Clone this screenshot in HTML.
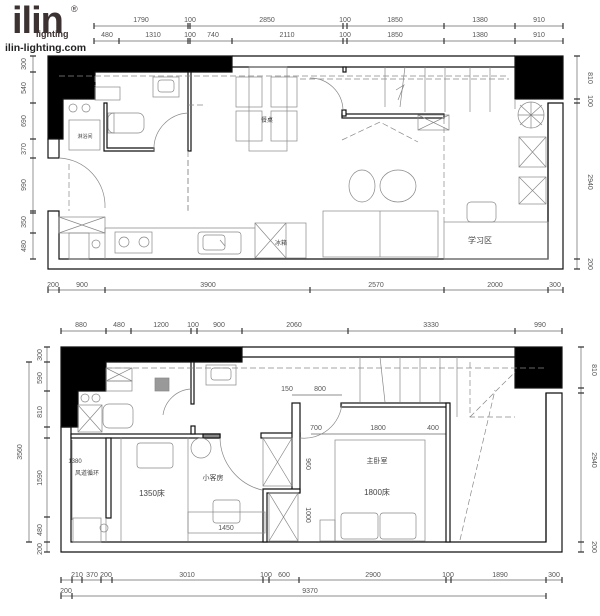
<!DOCTYPE html>
<html><head><meta charset="utf-8"><style>
html,body{margin:0;padding:0;background:#fff;width:600px;height:616px;overflow:hidden}
svg{display:block}
.d{font:7px "Liberation Sans","Noto Sans CJK SC",sans-serif;fill:#555}
.t{font:8px "Liberation Sans","Noto Sans CJK SC",sans-serif;fill:#444}
</style></head><body>
<svg width="600" height="616" viewBox="0 0 600 616" xmlns="http://www.w3.org/2000/svg">
<g stroke="#666" stroke-width="0.7" fill="none">
<!-- ===== TOP PLAN dims ===== -->
<line x1="94" y1="26" x2="563" y2="26"/><line x1="94" y1="41" x2="563" y2="41"/>
<line x1="48" y1="290" x2="563" y2="290"/>
<line x1="33" y1="56" x2="33" y2="259"/><line x1="577" y1="56" x2="577" y2="269"/>
</g>
<g stroke="#333" stroke-width="1.2">
<path d="M94 23v6M188 23v6M190 23v6M343 23v6M347 23v6M444 23v6M515 23v6M563 23v6"/>
<path d="M94 38v6M119 38v6M188 38v6M190 38v6M232 38v6M343 38v6M347 38v6M444 38v6M515 38v6M563 38v6"/>
<path d="M48 287v6M59 287v6M105 287v6M310 287v6M444 287v6M548 287v6M563 287v6"/>
<path d="M30 56h6M30 72h6M30 103h6M30 139h6M30 158h6M30 211h6M30 213h6M30 233h6M30 259h6"/>
<path d="M574 56h6M574 99h6M574 103h6M574 259h6M574 269h6"/>
</g>
<g class="d" text-anchor="middle">
<text x="141" y="22">1790</text><text x="190" y="22">100</text><text x="267" y="22">2850</text><text x="345" y="22">100</text><text x="395" y="22">1850</text><text x="480" y="22">1380</text><text x="539" y="22">910</text>
<text x="107" y="37">480</text><text x="153" y="37">1310</text><text x="190" y="37">100</text><text x="213" y="37">740</text><text x="287" y="37">2110</text><text x="345" y="37">100</text><text x="395" y="37">1850</text><text x="480" y="37">1380</text><text x="539" y="37">910</text>
<text x="53" y="287">200</text><text x="82" y="287">900</text><text x="208" y="287">3900</text><text x="376" y="287">2570</text><text x="495" y="287">2000</text><text x="555" y="287">300</text>
<text transform="translate(26,64) rotate(-90)">300</text><text transform="translate(26,88) rotate(-90)">540</text><text transform="translate(26,121) rotate(-90)">690</text><text transform="translate(26,149) rotate(-90)">370</text><text transform="translate(26,185) rotate(-90)">990</text><text transform="translate(26,222) rotate(-90)">350</text><text transform="translate(26,246) rotate(-90)">480</text>
<text transform="translate(588,78) rotate(90)">810</text><text transform="translate(588,101) rotate(90)">100</text><text transform="translate(588,182) rotate(90)">2940</text><text transform="translate(588,264) rotate(90)">200</text>
</g>
<!-- top plan walls -->
<g stroke="#111" stroke-width="1.2">
<path d="M48 56H232V72H95V99H63V139H48Z" fill="#000"/>
<rect x="515" y="56" width="48" height="43" fill="#000"/>
<path d="M232 56H515M232 67H515" fill="none"/>
<rect x="48" y="139" width="11" height="19" fill="#fff"/>
<path d="M48 211h11v48h489V103h15v166H48Z" fill="none"/>
<path d="M548 103v156" fill="none"/>
<rect x="188" y="72" width="3" height="79" fill="#fff"/>
<path d="M104 103h3v45h47v3h-50Z" fill="#fff"/>
<rect x="342" y="114" width="102" height="4" fill="#fff"/>
<rect x="342" y="110" width="4" height="6" fill="#fff"/>
<rect x="343" y="67" width="3" height="5" fill="#fff"/>
</g>
<g stroke="#888" stroke-width="0.7" fill="none">
<path d="M59 76h450M95 76v10M188 105h15M300 79h209" stroke-dasharray="6 3"/>
<path d="M444 118v104M188 151v60" stroke-dasharray="6 3"/>
<path d="M342 140l38-18l38 20M69 164v47M188 160v50" stroke-dasharray="6 3"/>
<path d="M385 67v40M405 67l-5 40M425 67v45M445 67v45M470 67v45M490 67v45M515 99v10"/>
<path d="M396 90l8-5l-6 15"/>
<rect x="236" y="77" width="26" height="30"/><rect x="271" y="77" width="26" height="30"/>
<rect x="236" y="111" width="26" height="30"/><rect x="271" y="111" width="26" height="30"/>
<rect x="249" y="67" width="38" height="84"/>
<path d="M310 78a33 33 0 0 1 33 32"/>
<rect x="418" y="115" width="31" height="15"/><path d="M418 115l31 15M449 115l-31 15"/>
<ellipse cx="362" cy="186" rx="13" ry="16"/><ellipse cx="398" cy="186" rx="18" ry="16"/>
<rect x="323" y="211" width="115" height="46"/><path d="M380 211v46"/>
<rect x="444" y="222" width="104" height="37"/>
<rect x="467" y="202" width="29" height="20" rx="4"/>
<rect x="519" y="137" width="27" height="30"/><rect x="519" y="177" width="27" height="27"/>
<path d="M519 137l27 30M546 137l-27 30M519 177l27 27M546 177l-27 27"/>
<circle cx="531" cy="115" r="13"/><path d="M520 105l22 20M542 105l-22 20M531 102v26M518 115h26"/>
<path d="M105 228h150M105 228v31"/>
<rect x="115" y="232" width="37" height="21"/><circle cx="124" cy="242" r="5"/><circle cx="144" cy="242" r="5"/>
<rect x="198" y="232" width="43" height="22" rx="3"/><rect x="203" y="235" width="22" height="15" rx="3"/><path d="M220 240l5 6"/>
<rect x="255" y="223" width="51" height="35"/><path d="M286 223v35M255 223l31 35M286 223l-31 35"/>
<rect x="59" y="217" width="46" height="16"/><path d="M59 217l46 16M105 217l-46 16"/>
<rect x="69" y="233" width="20" height="26"/><circle cx="96" cy="244" r="4"/>
<path d="M59 158a48 48 0 0 1 46 50"/>
<rect x="153" y="77" width="26" height="20"/><rect x="158" y="80" width="16" height="12" rx="3"/>
<rect x="108" y="113" width="36" height="20" rx="6"/><rect x="108" y="113" width="6" height="20"/>
<path d="M154 151a36 36 0 0 1 34 -38"/>
<rect x="69" y="120" width="31" height="30"/>
<circle cx="73" cy="108" r="4"/><circle cx="86" cy="108" r="4"/>
<rect x="95" y="87" width="25" height="13"/>
</g>
<g class="t" text-anchor="middle" font-size="6">
<text x="85" y="138" style="font-size:5px">淋浴间</text>
<text x="480" y="243">学习区</text><text x="281" y="245" style="font-size:6px">冰箱</text>
<text x="267" y="122" style="font-size:6px">餐桌</text>
</g>

<!-- ===== BOTTOM PLAN ===== -->
<g stroke="#666" stroke-width="0.7" fill="none">
<line x1="61" y1="331" x2="562" y2="331"/><line x1="61" y1="580" x2="562" y2="580"/><line x1="61" y1="596" x2="546" y2="596"/>
<line x1="29" y1="362" x2="29" y2="542"/><line x1="47" y1="347" x2="47" y2="552"/><line x1="581" y1="347" x2="581" y2="552"/>
<line x1="72" y1="440" x2="72" y2="520"/><line x1="292" y1="395" x2="342" y2="395"/><line x1="311" y1="434" x2="449" y2="434"/>
</g>
<g stroke="#333" stroke-width="1.2">
<path d="M61 328v6M106 328v6M131 328v6M191 328v6M197 328v6M242 328v6M348 328v6M515 328v6M562 328v6"/>
<path d="M61 577v6M72 577v6M82 577v6M101 577v6M112 577v6M263 577v6M269 577v6M299 577v6M446 577v6M451 577v6M546 577v6M562 577v6"/>
<path d="M61 593v6M72 593v6M546 593v6"/>
<path d="M44 347h6M44 362h6M44 391h6M44 427h6M44 438h6M44 517h6M44 542h6M44 552h6M26 362h6M26 542h6"/>
<path d="M578 347h6M578 388h6M578 393h6M578 542h6M578 552h6"/>
</g>
<g class="d" text-anchor="middle">
<text x="81" y="327">880</text><text x="119" y="327">480</text><text x="161" y="327">1200</text><text x="193" y="327">100</text><text x="219" y="327">900</text><text x="294" y="327">2060</text><text x="431" y="327">3330</text><text x="540" y="327">990</text>
<text x="77" y="577">210</text><text x="92" y="577">370</text><text x="106" y="577">200</text><text x="187" y="577">3010</text><text x="266" y="577">100</text><text x="284" y="577">600</text><text x="373" y="577">2900</text><text x="448" y="577">100</text><text x="500" y="577">1890</text><text x="554" y="577">300</text>
<text x="66" y="593">200</text><text x="310" y="593">9370</text>
<text x="287" y="391">150</text><text x="320" y="391">800</text><text x="316" y="430">700</text><text x="378" y="430">1800</text><text x="433" y="430">400</text><text x="226" y="530">1450</text>
<text transform="translate(22,452) rotate(-90)">3560</text>
<text transform="translate(42,355) rotate(-90)">300</text><text transform="translate(42,378) rotate(-90)">590</text><text transform="translate(42,412) rotate(-90)">810</text><text transform="translate(42,478) rotate(-90)">1590</text><text transform="translate(42,530) rotate(-90)">480</text><text transform="translate(42,549) rotate(-90)">200</text>
<text transform="translate(592,370) rotate(90)">810</text><text transform="translate(592,460) rotate(90)">2940</text><text transform="translate(592,547) rotate(90)">200</text>
<text transform="translate(306,464) rotate(90)">960</text><text transform="translate(306,515) rotate(90)">1000</text>
</g>
<g stroke="#111" stroke-width="1.2">
<path d="M61 347H242V362H106V391H78V427H61Z" fill="#000"/>
<rect x="515" y="347" width="47" height="41" fill="#000"/>
<path d="M242 347H515M242 357H515" fill="none"/>
<path d="M61 427h10v115h475V393h16v159H61Z" fill="none"/>
<path d="M546 393v149" fill="none"/>
<rect x="71" y="434" width="149" height="4" fill="#fff"/>
<rect x="203" y="434" width="17" height="4" fill="#888"/>
<rect x="261" y="433" width="39" height="5" fill="#fff"/>
<rect x="292" y="403" width="8" height="89" fill="#fff"/>
<path d="M263 489h37v4h-33v49h-4Z" fill="#fff"/>
<rect x="341" y="403" width="108" height="4" fill="#fff"/>
<rect x="446" y="403" width="4" height="139" fill="#fff"/>
<rect x="106" y="438" width="5" height="80" fill="#fff"/>
<rect x="191" y="362" width="3" height="42" fill="#fff"/>
<rect x="191" y="426" width="4" height="8" fill="#fff"/>
</g>
<g stroke="#888" stroke-width="0.7" fill="none">
<path d="M106 368h440M470 362v55h45M470 417l45-45M460 540l35-150" stroke-dasharray="6 3"/>
<path d="M360 357v45M380 357l5 45M400 357v45M420 357v45M440 357v45M457 357v60"/>
<rect x="263" y="438" width="29" height="48"/><path d="M263 438l29 48M292 438l-29 48"/>
<rect x="269" y="493" width="29" height="48"/><path d="M269 493l29 48M298 493l-29 48"/>
<rect x="335" y="440" width="90" height="101"/>
<rect x="341" y="513" width="37" height="26" rx="3"/><rect x="380" y="513" width="36" height="26" rx="3"/>
<rect x="320" y="520" width="15" height="21"/>
<rect x="137" y="443" width="36" height="25" rx="3"/>
<path d="M121 437v104M188 437v104"/>
<rect x="188" y="512" width="77" height="21"/>
<rect x="213" y="500" width="27" height="23" rx="3"/>
<circle cx="201" cy="448" r="10"/>
<path d="M220 438a55 55 0 0 0 42 52M300 438a38 38 0 0 0 42 -35M163 415a30 30 0 0 1 28 -26"/>
<rect x="73" y="518" width="28" height="24"/><circle cx="104" cy="528" r="4"/>
<rect x="106" y="368" width="26" height="13"/><path d="M106 368l26 13M132 368l-26 13"/>
<rect x="106" y="381" width="26" height="10"/>
<rect x="78" y="405" width="24" height="27"/><path d="M78 405l24 27M102 405l-24 27"/>
<circle cx="85" cy="398" r="4"/><circle cx="96" cy="398" r="4"/>
<rect x="103" y="404" width="30" height="24" rx="6"/>
<rect x="155" y="378" width="14" height="13" fill="#999"/>
<rect x="206" y="365" width="30" height="20"/><rect x="211" y="368" width="20" height="12" rx="3"/>
<path d="M106 518v24"/>
</g>
<g class="t" text-anchor="middle">
<text x="377" y="463" style="font-size:7px">主卧室</text><text x="377" y="495">1800床</text>
<text x="152" y="496">1350床</text><text x="213" y="480" style="font-size:7px">小客房</text>
<text x="87" y="475" style="font-size:6px">风道循环</text>
<text x="75" y="463" style="font-size:6px">1380</text>
</g>

<!-- logo -->
<rect x="2" y="40" width="82" height="14" fill="#fff"/>
<text x="12" y="33" style="font:bold 38px 'Liberation Sans',sans-serif;fill:#3c3232;letter-spacing:-1px">ilin</text>
<text x="36" y="37" style="font:bold 9px 'Liberation Sans',sans-serif;fill:#3c3232">lighting</text>
<text x="71" y="12" style="font:9px 'Liberation Sans',sans-serif;fill:#3c3232">®</text>
<text x="5" y="51" style="font:bold 10.5px 'Liberation Sans',sans-serif;fill:#222">ilin-lighting.com</text>
</svg>
</body></html>
